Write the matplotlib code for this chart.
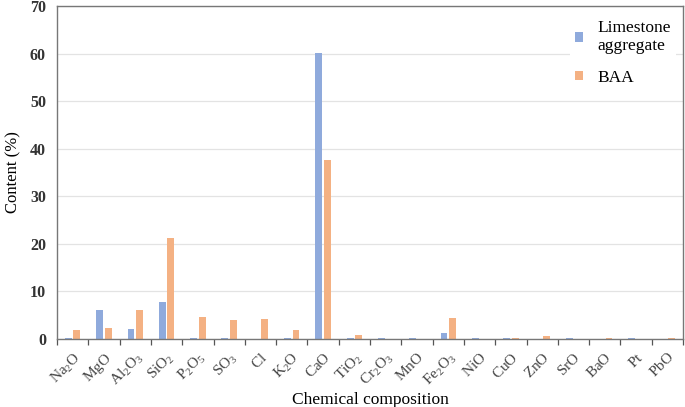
import matplotlib
matplotlib.use("Agg")
import matplotlib.pyplot as plt
import numpy as np

categories = ["Na_2O", "MgO", "Al_2O_3", "SiO_2", "P_2O_5", "SO_3", "Cl", "K_2O", "CaO",
              "TiO_2", "Cr_2O_3", "MnO", "Fe_2O_3", "NiO", "CuO", "ZnO", "SrO", "BaO", "Pt", "PbO"]
limestone = [0.2, 6.2, 2.1, 7.8, 0.2, 0.2, 0.0, 0.2, 60.2,
             0.2, 0.2, 0.2, 1.3, 0.2, 0.2, 0.0, 0.2, 0.0, 0.2, 0.0]
baa = [1.9, 2.3, 6.1, 21.2, 4.6, 4.0, 4.2, 1.8, 37.7,
       0.9, 0.0, 0.0, 4.5, 0.0, 0.2, 0.6, 0.0, 0.2, 0.0, 0.2]
series_names = ["Limestone\naggregate", "BAA"]
yticks = [0, 10, 20, 30, 40, 50, 60, 70]

plt.rcParams["font.family"] = ["Liberation Serif", "DejaVu Serif"]
plt.rcParams["mathtext.fontset"] = "custom"
plt.rcParams["mathtext.rm"] = "Liberation Serif"
plt.rcParams["mathtext.it"] = "Liberation Serif:italic"
plt.rcParams["mathtext.bf"] = "Liberation Serif:bold"

fig = plt.figure(figsize=(6.85, 4.07), dpi=100)
ax = fig.add_axes([57/685, 1-339/407, 626/685, 333/407])

x = np.arange(len(categories))
w = 0.22
gap = 0.05
c_blue = "#8FAADC"
c_orange = "#F4B183"
ax.bar(x - w/2 - gap/2, limestone, width=w, color=c_blue, label=series_names[0], zorder=3)
ax.bar(x + w/2 + gap/2, baa, width=w, color=c_orange, label=series_names[1], zorder=3)

ax.set_xlim(-0.5, len(categories) - 0.5)
ax.set_ylim(0, 70)
ax.set_yticks(yticks)
ax.set_yticklabels([str(t) for t in yticks], fontsize=11.5, fontweight="bold", color="#333333")
ax.tick_params(axis="y", length=0, pad=8)
ax.yaxis.grid(True, color="#E3E3E3", linewidth=0.9, zorder=0)
ax.set_axisbelow(True)

ax.set_xticks(x)
ax.set_xticklabels([r"$\mathregular{" + c + "}$" for c in categories],
                   rotation=45, ha="right", rotation_mode="anchor", fontsize=11, color="#444444")
ax.tick_params(axis="x", which="major", length=0, pad=8)
ax.set_xticks(np.arange(-0.5, len(categories), 1.0), minor=True)
ax.tick_params(axis="x", which="minor", length=4, width=0.9, color="#555555", direction="out")

for s in ax.spines.values():
    s.set_color("#777777")
    s.set_linewidth(1.0)
    s.set_zorder(7)

ax.set_ylabel("Content (%)", fontsize=12, labelpad=6)
ax.set_xlabel("Chemical composition", fontsize=12.5, labelpad=2)

leg = ax.legend(loc="upper left", bbox_to_anchor=(0.806, 1.0), fontsize=12.5,
                frameon=True, facecolor="white", edgecolor="none", framealpha=1,
                handlelength=0.45, handleheight=0.45, handletextpad=0.8,
                labelspacing=0.9, borderpad=0.3)
leg.set_zorder(5)

fig.savefig("out.png", dpi=100)
